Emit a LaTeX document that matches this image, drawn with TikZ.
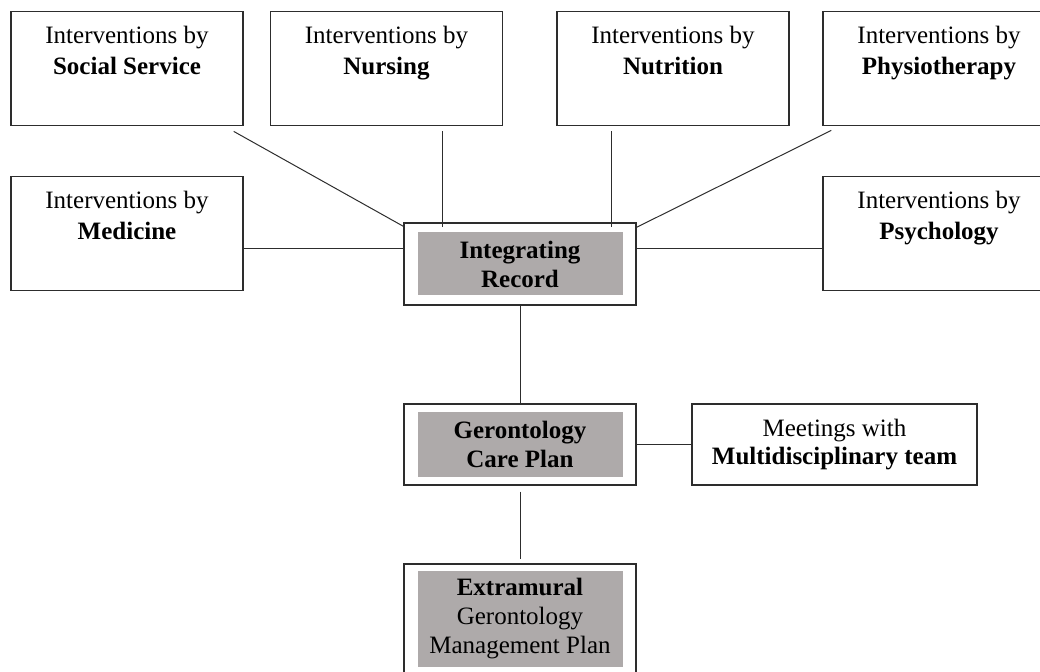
\documentclass[tikz,border=0pt]{standalone}
\usepackage{fontspec}
\setmainfont{Liberation Serif}
\usetikzlibrary{calc}

\definecolor{recordgray}{RGB}{174,170,170}
\definecolor{framegray}{RGB}{45,45,45}
\newcommand{\intervtext}[1]{\parbox[t][57pt][t]{116pt}{\centering\rule{0pt}{16pt}Interventions by\\\textbf{#1}}}

\begin{document}
\begin{tikzpicture}[x=0.5pt, y=-0.5pt,
  every node/.style={font=\fontsize{12.5pt}{15.5pt}\selectfont},
  unitbox/.style={draw=framegray, line width=0.7pt, inner sep=0pt, anchor=north},
  outerframe/.style={draw=framegray, line width=0.7pt, minimum width=116pt, minimum height=#1},
  record/.style={fill=recordgray, minimum width=102.5pt, minimum height=#1, inner sep=0pt, align=center, font=\fontsize{12.5pt}{14.5pt}\selectfont},
  link/.style={draw=framegray, line width=0.5pt}]

  \clip (0,0) rectangle (1040,672);

  % interventions
  \node[unitbox] (social) at (127,11) {\intervtext{Social Service}};
  \node[unitbox] (nursing) at (386.5,11) {\intervtext{Nursing}};
  \node[unitbox] (nutrition) at (673,11) {\intervtext{Nutrition}};
  \node[unitbox] (physio) at (939,11) {\intervtext{Physiotherapy}};
  \node[unitbox] (medicine) at (127,176) {\intervtext{Medicine}};
  \node[unitbox] (psych) at (939,176) {\intervtext{Psychology}};

  % record and plans
  \node[outerframe=41pt] (integ) at (520,264) {};
  \node[record=31.5pt] (integtext) at (integ) {\textbf{Integrating}\\\textbf{Record}};
  \node[outerframe=40.5pt] (care) at (520,444.5) {};
  \node[record=32.5pt] (caretext) at (care) {\textbf{Gerontology}\\\textbf{Care Plan}};
  \node[outerframe=55pt] (extra) at (520,619) {};
  \node[record=48pt] (extratext) at (extra) {\textbf{Extramural}\\Gerontology\\Management Plan};
  \node[draw=framegray, line width=0.7pt, minimum width=142.5pt, minimum height=40.5pt, align=center,
        font=\fontsize{12.5pt}{14pt}\selectfont] (meetings) at (834.5,444.5) {Meetings with\\\textbf{Multidisciplinary team}};

  % connections
  \draw[link] ([shift={(-5pt,-2.5pt)}]social.south east) -- ([yshift=-2pt]integ.north west);
  \draw[link] ($(integ.north west |- nursing.south)+(19.5pt,-2.5pt)$) -- ($(integ.north west)+(19.5pt,-2.5pt)$);
  \draw[link] ($(integ.north east |- nutrition.south)+(-12.5pt,-2.5pt)$) -- ($(integ.north east)+(-12.5pt,-2.5pt)$);
  \draw[link] ([shift={(4.5pt,-2pt)}]physio.south west) -- ([yshift=-2.5pt]integ.north east);
  \draw[link] ($(medicine.east)+(0pt,-7.5pt)$) -- ($(medicine.east -| integ.west)+(0pt,-7.5pt)$);
  \draw[link] ($(psych.west)+(0pt,-7.5pt)$) -- ($(psych.west -| integ.east)+(0pt,-7.5pt)$);
  \draw[link] (integ.south) -- (care.north);
  \draw[link] ([yshift=-3pt]care.south) -- ([yshift=2pt]extra.north);
  \draw[link] (care.east) -- (meetings.west);
\end{tikzpicture}
\end{document}
